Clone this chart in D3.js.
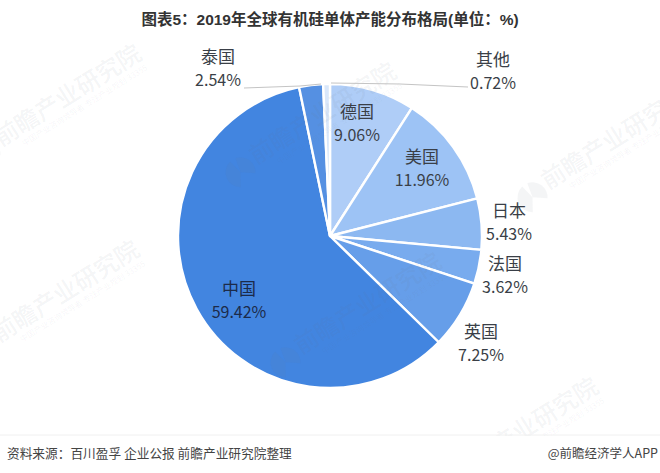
<!DOCTYPE html>
<html><head><meta charset="utf-8">
<script src="https://cdnjs.cloudflare.com/ajax/libs/d3/7.8.5/d3.min.js"></script>
<style>html,body{margin:0;padding:0;background:#fff}svg{display:block}</style></head>
<body><svg id="c" width="660" height="473"></svg>
<script>
const categories=["德国","美国","日本","法国","英国","中国","泰国","其他"];
const values=[9.06,11.96,5.43,3.62,7.25,59.42,2.54,0.72];
const colors=["#afcdf7","#9dc3f5","#8cb8f1","#78abee","#669ee9","#4285e0","#5590e2","#d9e7fa"];
const labelPos=[[357,118],[422,163],[509,217],[505,270],[481,338],[239,295],[218,63],[493,66]];
const title="图表5：2019年全球有机硅单体产能分布格局(单位：%)";
const source="资料来源：百川盈孚 企业公报 前瞻产业研究院整理";
const credit="@前瞻经济学人APP";
const marks=[[1,147],[256,165],[548,190],[-1,343],[301,355],[458,480]];
const font='"Liberation Sans","Noto Sans CJK SC",sans-serif';
const cjk='"Noto Sans CJK SC","Noto Sans",sans-serif';
const svg=d3.select("#c");
const cx=330,cy=236,R=152;
const pie=d3.pie().sort(null).value(d=>d);
const arc=d3.arc().innerRadius(0).outerRadius(R);
const arcs=pie(values);
const G=svg.append("g").attr("transform",`translate(${cx},${cy})`);
G.selectAll("path").data(arcs).join("path").attr("d",arc).attr("fill",(d,i)=>colors[i]).attr("stroke","#fff").attr("stroke-width",2.4).attr("stroke-linejoin","round");
const defs=svg.append("defs");
defs.append("clipPath").attr("id","wmclip").append("rect").attr("width",660).attr("height",436);
const wm=svg.append("g").attr("clip-path","url(#wmclip)");
const iconArc=d3.arc().innerRadius(0).outerRadius(15);
marks.forEach(m=>{
 const g=wm.append("g").attr("transform",`translate(${m[0]},${m[1]}) rotate(-32)`);
 g.append("text").text("前瞻产业研究院").attr("font-family",cjk).attr("font-size",24).attr("font-weight",500).attr("fill","#6b7480").attr("fill-opacity",.085);
 g.append("text").text("中国产业咨询领导者 专注产业规划 33355").attr("y",12).attr("x",20).attr("font-family",cjk).attr("font-size",8).attr("fill","#6b7480").attr("fill-opacity",.07);
 [[-2.6,-0.2],[0.2,2.2]].forEach(a=>{
  g.append("path").attr("transform","translate(-17,-2)").attr("d",iconArc({startAngle:a[0],endAngle:a[1]})).attr("fill","#6b7480").attr("fill-opacity",.075);
 });
});
const lines=[[[244,88],[300,86],[321,84]],[[468,87],[400,84],[331,83]]];
const ln=d3.line();
svg.selectAll("path.lead").data(lines).join("path").attr("class","lead").attr("d",ln).attr("fill","none").attr("stroke","#c4c4c4").attr("stroke-width",1);
const lab=svg.append("g").attr("font-family",cjk).attr("fill","#3a3f47").attr("text-anchor","middle");
categories.forEach((c,i)=>{
 const col=i===5?"#1c2b4a":"#3a3f47";
 lab.append("text").text(c).attr("x",labelPos[i][0]).attr("y",labelPos[i][1]).attr("font-size",17).attr("fill",col);
 lab.append("text").text(values[i].toFixed(2)+"%").attr("x",labelPos[i][0]).attr("y",labelPos[i][1]+22.5).attr("font-size",16).attr("fill",col);
});
svg.append("text").text(title).attr("x",330).attr("y",25).attr("text-anchor","middle").attr("font-family",font).attr("font-weight",700).attr("font-size",15.5).attr("fill","#333");
svg.append("line").attr("x1",0).attr("x2",660).attr("y1",435).attr("y2",435).attr("stroke","#f0f0f0");
svg.append("text").text(source).attr("x",7).attr("y",458).attr("font-family",cjk).attr("font-size",12.7).attr("fill","#444");
svg.append("text").text(credit).attr("x",658).attr("y",458).attr("text-anchor","end").attr("font-family",cjk).attr("font-size",12.5).attr("fill","#444");
</script></body></html>
